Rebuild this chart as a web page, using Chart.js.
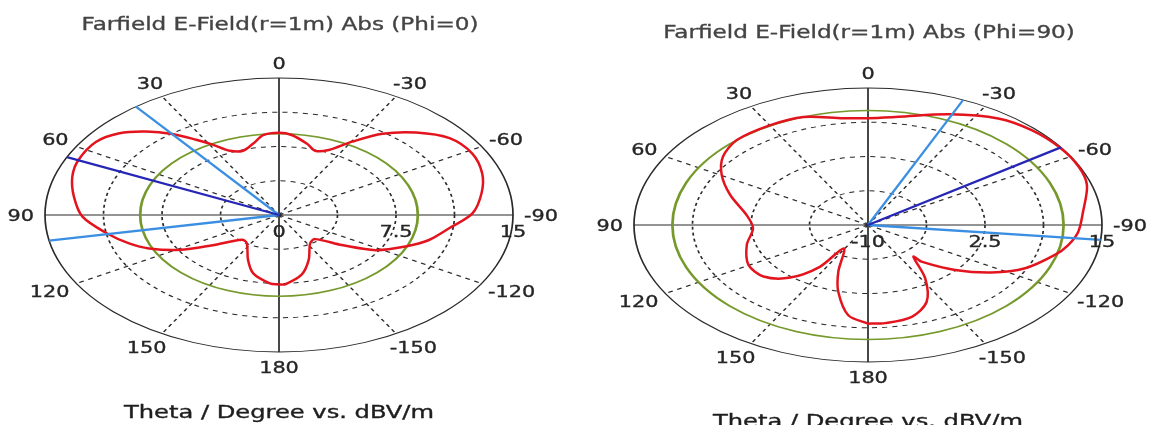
<!DOCTYPE html>
<html>
<head>
<meta charset="utf-8">
<title>Farfield E-Field polar plots</title>
<script src="https://cdn.jsdelivr.net/npm/chart.js@4.4.1/dist/chart.umd.min.js"></script>
<style>
  html, body { margin: 0; padding: 0; background: #fff; }
  #wrap { position: relative; width: 1153px; height: 425px; overflow: hidden; }
  canvas { position: absolute; top: 0; }
  #phi0 { left: 0; }
  #phi90 { left: 576px; }
</style>
</head>
<body>
<div id="wrap">
  <canvas id="phi0" width="576" height="425"></canvas>
  <canvas id="phi90" width="577" height="425"></canvas>
</div>
<script>
// angle ticks (theta, degrees) and dashed spokes
const ANGLE_TICKS = [0, 30, 60, 90, 120, 150, 180, -150, -120, -90, -60, -30];
const SPOKES = [30, 60, 120, 150, -30, -60, -120, -150];

// Phi = 0 cut, dBV/m
const PHI0_RANGE = [0, 15];
const PHI0_RADIAL_TICKS = [0, 7.5, 15];
const PHI0_THETA = [-180, -177, -167.5, -159, -147.3, -139, -129.2, -121.8, -113.1, -105.9, -97.6,
  -89.2, -79.6, -70.7, -61.5, -52.4, -44.2, -36.7, -30.3, -24.1, -18.3, -13, -5.3, 0,
  6.6, 11.9, 18.1, 24.1, 28.9, 32.8, 37.6, 43, 48.8, 55.6, 64.8, 72.4, 81.3, 90.8, 100.4,
  107.9, 113.7, 121, 127.8, 138.7, 146, 158, 165.5, 175.5, 180];
const PHI0_DB = [7.6, 7.6, 6.7, 5.3, 3.7, 3.5, 5.2, 7.3, 8.8, 10.0, 11.0,
  12.4, 13.2, 13.8, 14.1, 13.8, 12.6, 11.1, 9.3, 7.8, 7.4, 8.0, 8.8, 9.0,
  8.8, 8.0, 7.4, 7.7, 8.8, 9.8, 11.2, 12.5, 13.6, 14.2, 14.2, 13.9, 13.3, 12.6, 11.2,
  10.1, 9.1, 7.4, 5.4, 3.6, 3.7, 5.3, 6.6, 7.5, 7.6];
const PHI0_LEVEL = 8.9;
const PHI0_MAIN_LOBE = 65;
const PHI0_BEAM_EDGES = [37.7, 100.8];

// Phi = 90 cut
const PHI90_RANGE = [-10, 15];
const PHI90_RADIAL_TICKS = [-10, 2.5, 15];
const PHI90_THETA = [-180, -174.2, -164.4, -155.9, -147.9, -140, -139.5, -131.4, -123.3, -115.2,
  -105.3, -99.7, -93.1, -84, -72.7, -64.6, -55.5, -45.3, -35.6, -23.4, -9.3, 0,
  7.7, 19.3, 29.8, 42.1, 51.1, 59.7, 69.6, 82, 92.8, 105.7, 119.7, 130.1, 139.1, 146, 149,
  159.6, 165.4, 172.7, 180];
const PHI90_DB = [8.0, 8.0, 7.4, 5.35, 1.5, -2.45, -1.2, 2.4, 5.8, 8.55,
  10.7, 11.7, 12.5, 13.1, 14.5, 14.9, 14.9, 14.6, 13.9, 12.0, 10.0, 9.5,
  9.65, 10.9, 11.0, 10.9, 9.9, 8.1, 5.7, 3.1, 2.3, 3.45, 4.7, 4.6, 2.7, -0.8, -5.0,
  -0.9, 2.6, 6.6, 8.0];
const PHI90_LEVEL = 10.9;
const PHI90_MAIN_LOBE = -55.5;
const PHI90_BEAM_EDGES = [-24, -96.2];

const RED = '#e3141e';
const GREEN = '#76992c';
const DARK_BLUE = '#2626b6';
const LIGHT_BLUE = '#3b8fe2';
const FONT = '"DejaVu Sans", Verdana, sans-serif';

const rad = d => d * Math.PI / 180;

function toXY(theta, db, range) {
  const rn = (db - range[0]) / (range[1] - range[0]);
  return { x: -rn * Math.sin(rad(theta)), y: rn * Math.cos(rad(theta)) };
}

function geom(chart) {
  const xs = chart.scales.x, ys = chart.scales.y;
  const cx = xs.getPixelForValue(0), cy = ys.getPixelForValue(0);
  return { cx, cy, a: xs.getPixelForValue(1) - cx, b: cy - ys.getPixelForValue(1) };
}

function stretchText(ctx, text, x, y, size, sx, color) {
  ctx.save();
  ctx.font = size + 'px ' + FONT;
  ctx.fillStyle = color;
  ctx.strokeStyle = color;
  ctx.lineWidth = 0.35;
  ctx.textAlign = 'center';
  ctx.textBaseline = 'alphabetic';
  ctx.translate(x, y);
  ctx.scale(sx, 1);
  ctx.fillText(text, 0, 0);
  ctx.strokeText(text, 0, 0);
  ctx.restore();
}

function textWidth(ctx, text, size) {
  ctx.save();
  ctx.font = size + 'px ' + FONT;
  const w = ctx.measureText(text).width;
  ctx.restore();
  return w;
}

// dashed rings, spokes, axes, outer rim and the green level, drawn in the
// un-stretched frame so dashes and strokes widen sideways like the original
const polarFrame = {
  id: 'polarFrame',
  beforeDatasetsDraw(chart, args, opts) {
    const { ctx } = chart;
    const g = geom(chart);
    const range = opts.range;
    ctx.save();
    ctx.translate(g.cx, g.cy);
    ctx.scale(g.a / g.b, 1);
    ctx.strokeStyle = '#2a2a2a';
    ctx.lineWidth = 1;
    ctx.setLineDash([3, 3]);
    for (let k = 1; k < 4; k++) {
      ctx.beginPath();
      ctx.arc(0, 0, g.b * k / 4, 0, 2 * Math.PI);
      ctx.stroke();
    }
    SPOKES.forEach(t => {
      ctx.beginPath();
      ctx.moveTo(0, 0);
      ctx.lineTo(-g.b * Math.sin(rad(t)), -g.b * Math.cos(rad(t)));
      ctx.stroke();
    });
    ctx.setLineDash([]);
    ctx.beginPath();
    ctx.moveTo(-g.b, 0); ctx.lineTo(g.b, 0);
    ctx.moveTo(0, -g.b); ctx.lineTo(0, g.b);
    ctx.stroke();
    ctx.beginPath();
    ctx.arc(0, 0, g.b, 0, 2 * Math.PI);
    ctx.stroke();
    const rl = (opts.level - range[0]) / (range[1] - range[0]);
    ctx.strokeStyle = GREEN;
    ctx.lineWidth = 1.6;
    ctx.beginPath();
    ctx.arc(0, 0, g.b * rl, 0, 2 * Math.PI);
    ctx.stroke();
    ctx.restore();
  },
  afterDraw(chart, args, opts) {
    const { ctx } = chart;
    const g = geom(chart);
    const range = opts.range;
    const sx = 1.3;
    ANGLE_TICKS.forEach(t => {
      const label = String(t);
      const w = textWidth(ctx, label, 16) * sx;
      const x = g.cx - Math.sin(rad(t)) * (g.a + 11 + w / 2);
      const y = g.cy - Math.cos(rad(t)) * (g.b + 15) + 6;
      stretchText(ctx, label, x, y, 16, sx, '#262626');
    });
    opts.radialTicks.forEach(v => {
      const rn = (v - range[0]) / (range[1] - range[0]);
      stretchText(ctx, String(v), g.cx + rn * g.a, g.cy + 22, 16, sx, '#262626');
    });
    const tsx = 397 / textWidth(ctx, 'Farfield E-Field(r=1m) Abs (Phi=0)', 18);
    stretchText(ctx, opts.title, g.cx + 1, opts.titleY, 18, tsx, '#444');
    const csx = 310 / textWidth(ctx, 'Theta / Degree vs. dBV/m', 17);
    stretchText(ctx, 'Theta / Degree vs. dBV/m', g.cx, opts.captionY, 17, csx, '#1e1e1e');
  }
};

function spoke(theta, color) {
  return {
    data: [{ x: 0, y: 0 }, toXY(theta, 1, [0, 1])],
    showLine: true, borderColor: color, borderWidth: 2.3, pointRadius: 0, clip: 6
  };
}

function makePlot(id, cfg) {
  const datasets = [
    spoke(cfg.main, DARK_BLUE),
    spoke(cfg.edges[0], LIGHT_BLUE),
    spoke(cfg.edges[1], LIGHT_BLUE),
    {
      data: cfg.theta.map((t, i) => toXY(t, cfg.db[i], cfg.range)),
      showLine: true, borderColor: RED, borderWidth: 2.5, pointRadius: 0,
      tension: 0.3, clip: 6
    }
  ];
  return new Chart(document.getElementById(id), {
    type: 'scatter',
    data: { datasets },
    options: {
      responsive: false,
      animation: false,
      events: [],
      layout: { padding: cfg.padding },
      scales: {
        x: { type: 'linear', min: -1, max: 1, display: false },
        y: { type: 'linear', min: -1, max: 1, display: false }
      },
      plugins: {
        legend: { display: false },
        tooltip: { enabled: false },
        polarFrame: {
          range: cfg.range, level: cfg.level, radialTicks: cfg.radialTicks,
          title: cfg.title, titleY: cfg.titleY, captionY: cfg.captionY
        }
      }
    },
    plugins: [polarFrame]
  });
}

makePlot('phi0', {
  theta: PHI0_THETA, db: PHI0_DB, range: PHI0_RANGE, radialTicks: PHI0_RADIAL_TICKS,
  level: PHI0_LEVEL, main: PHI0_MAIN_LOBE, edges: PHI0_BEAM_EDGES,
  title: 'Farfield E-Field(r=1m) Abs (Phi=0)', titleY: 30, captionY: 418,
  padding: { left: 45, right: 63, top: 78, bottom: 73 }
});

makePlot('phi90', {
  theta: PHI90_THETA, db: PHI90_DB, range: PHI90_RANGE, radialTicks: PHI90_RADIAL_TICKS,
  level: PHI90_LEVEL, main: PHI90_MAIN_LOBE, edges: PHI90_BEAM_EDGES,
  title: 'Farfield E-Field(r=1m) Abs (Phi=90)', titleY: 38, captionY: 427,
  padding: { left: 58, right: 51, top: 88, bottom: 63 }
});
</script>
</body>
</html>
